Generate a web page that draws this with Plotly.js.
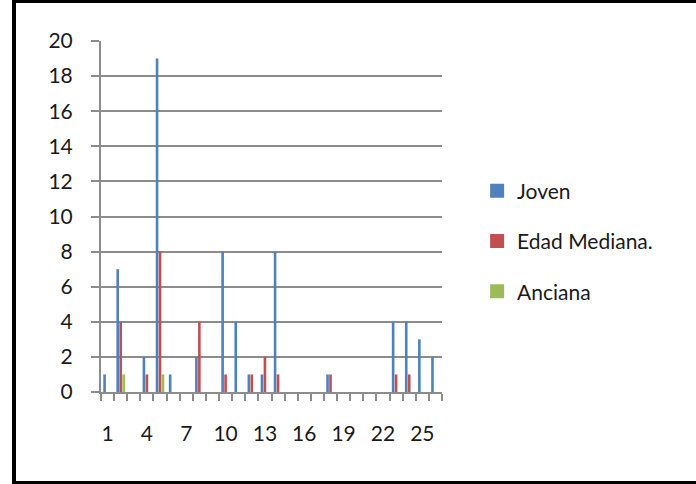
<!DOCTYPE html>
<html>
<head>
<meta charset="utf-8">
<script src="https://cdn.plot.ly/plotly-3.0.1.min.js"></script>
<style>
  html, body { margin: 0; padding: 0; background: #fff; }
  #wrap { position: relative; width: 696px; height: 484px; }
  #chart { position: absolute; left: 0; top: 0; width: 696px; height: 484px; }
  #frame { position: absolute; left: 12px; top: 0; width: 690px; height: 478px;
           border-left: 4px solid #000; border-top: 3px solid #000; border-bottom: 3px solid #000;
           pointer-events: none; }
</style>
</head>
<body>
<div id="wrap">
  <div id="chart"></div>
  <div id="frame"></div>
</div>
<script>
const categories = [1,2,3,4,5,6,7,8,9,10,11,12,13,14,15,16,17,18,19,20,21,22,23,24,25,26];
const tickLabels = [1,4,7,10,13,16,19,22,25];
const joven   = [1,7,0,2,19,1,0,2,0,8,4,1,1,8,0,0,0,1,0,0,0,0,4,4,3,2];
const edad    = [0,4,0,1,8,0,0,4,0,1,0,1,2,1,0,0,0,1,0,0,0,0,1,1,0,0];
const anciana = [0,1,0,0,1,0,0,0,0,0,0,0,0,0,0,0,0,0,0,0,0,0,0,0,0,0];
const seriesNames = ['Joven', 'Edad Mediana.', 'Anciana'];
const colors = ['#4F81BD', '#C0504D', '#9BBB59'];

const barTraces = [joven, edad, anciana].map((vals, i) => ({
  type: 'bar',
  x: categories,
  y: vals,
  name: seriesNames[i],
  legendgroup: 'g' + i,
  showlegend: false,
  marker: { color: colors[i], line: { width: 0 } }
}));

// legend entries with larger square swatches
const legendTraces = seriesNames.map((n, i) => ({
  type: 'scatter',
  mode: 'markers',
  x: [null],
  y: [null],
  name: n,
  legendgroup: 'g' + i,
  showlegend: true,
  marker: { symbol: 'square', size: 14, color: colors[i] }
}));

const grid = '#8c8c8c';
const layout = {
  width: 696,
  height: 484,
  margin: { l: 101, r: 254, t: 41, b: 92 },
  paper_bgcolor: '#ffffff',
  plot_bgcolor: '#ffffff',
  font: { family: 'Lato, "Open Sans", sans-serif', size: 21, color: '#1a1a1a' },
  barmode: 'group',
  bargap: 0.32,
  bargroupgap: 0.12,
  showlegend: true,
  legend: {
    x: 1.103, xanchor: 'left',
    y: 0.43, yanchor: 'middle',
    traceorder: 'grouped',
    tracegroupgap: 20,
    font: { size: 21, color: '#1a1a1a' },
    bgcolor: 'rgba(0,0,0,0)'
  },
  xaxis: {
    type: 'linear',
    range: [0.5, 26.5],
    tickmode: 'array',
    tickvals: tickLabels,
    ticktext: tickLabels.map(String),
    ticks: 'outside',
    ticklen: 0,
    ticklabelstandoff: 22,
    showgrid: false,
    zeroline: false,
    showline: true,
    linecolor: grid,
    linewidth: 2,
    minor: { tick0: 0.5, dtick: 1, ticks: 'outside', ticklen: 7, tickwidth: 2, tickcolor: grid, showgrid: false },
    fixedrange: true
  },
  yaxis: {
    range: [0, 20],
    dtick: 2,
    tick0: 0,
    ticks: 'outside',
    ticklen: 8,
    tickwidth: 2,
    tickcolor: grid,
    ticklabelstandoff: 14,
    showgrid: true,
    gridcolor: grid,
    gridwidth: 2,
    zeroline: false,
    showline: true,
    linecolor: grid,
    linewidth: 2,
    fixedrange: true
  }
};

Plotly.newPlot('chart', barTraces.concat(legendTraces), layout, { displayModeBar: false, staticPlot: true });
</script>
</body>
</html>
